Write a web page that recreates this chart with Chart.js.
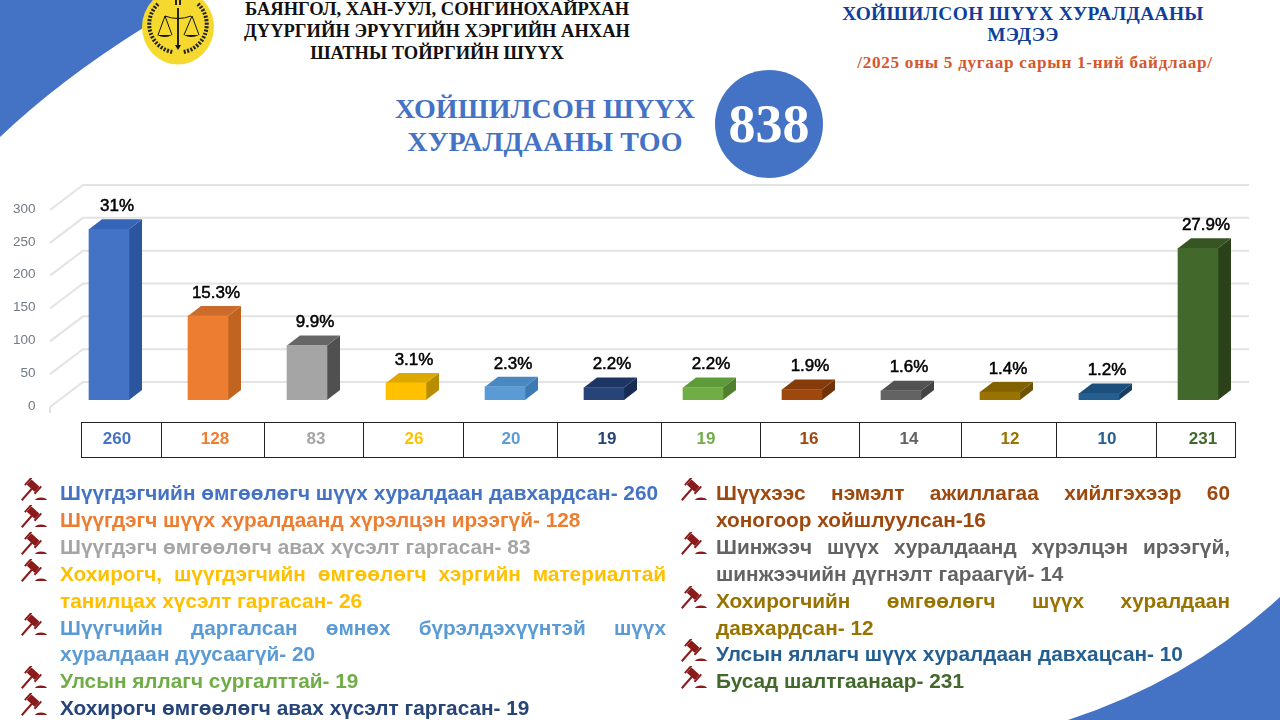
<!DOCTYPE html>
<html>
<head>
<meta charset="utf-8">
<title>Хойшилсон шүүх хуралдааны мэдээ</title>
<script src="https://cdn.jsdelivr.net/npm/chart.js@4"></script>
<style>
  html, body { margin: 0; padding: 0; background: #fff; }
  #page { position: relative; width: 1280px; height: 720px; overflow: hidden; background: #fff; }
  #page > * { position: absolute; }
  #decor { left: 0; top: 0; }
  #chart { left: 0; top: 0; }
  .serif { font-family: "Liberation Serif", serif; font-weight: bold; text-align: center; white-space: nowrap; }
  .head-left { left: 237px; width: 400px; font-size: 18.5px; line-height: 22px; top: -2px; color: #111; }
  .head-right { left: 823px; width: 400px; font-size: 19.4px; line-height: 21px; top: 3px; color: #0f3f9b; letter-spacing: 0.35px; }
  .head-date { left: 835px; width: 400px; font-size: 17.2px; top: 53px; color: #d5582c; letter-spacing: 0.7px; }
  .big-title { left: 345px; width: 400px; font-size: 28px; line-height: 33px; top: 92px; color: #4472c4; letter-spacing: 0.15px; }
  .circle { left: 715px; top: 70px; width: 108px; height: 108px; border-radius: 50%; background: #4472c4;
            color: #fff; font-size: 54px; line-height: 108px; }
  .cell { box-sizing: border-box; top: 422px; height: 36px; border: 1.5px solid #222; }
  .cell span { position: absolute; top: 6px; transform: translateX(-50%);
               font: bold 17px "Liberation Sans", sans-serif; }
  .legend { font: bold 20.8px/26.9px "Liberation Sans", sans-serif; }
  .legend div { position: relative; text-align: justify; }
  .legend svg { position: absolute; top: -2px; }
</style>
</head>
<body>
<div id="page">
  <svg id="decor" width="1280" height="720">
    <path d="M0 137 Q60 80 143 28 L178 8 L178 0 L0 0 Z" fill="#4472c4"/>
    <path d="M1068 720 Q1190 680 1280 597 L1280 720 Z" fill="#4472c4"/>
    <!-- logo -->
    <ellipse cx="178" cy="27" rx="36" ry="37.5" fill="#f5d92e"/>
    <path d="M158 4 A28 28 0 0 0 173 52" fill="none" stroke="#222" stroke-width="4" stroke-dasharray="2 1.5"/>
    <path d="M198 4 A28 28 0 0 1 183 52" fill="none" stroke="#222" stroke-width="4" stroke-dasharray="2 1.5"/>
    <path d="M165 16 Q178 21 191 16 M165 16 L158 35 M165 16 L172 35 M192 16 L184 35 M192 16 L199 35" stroke="#111" stroke-width="1" fill="none"/>
    <path d="M178 8 V47 M176 0 V5 M180 0 V5" stroke="#111" stroke-width="1.8"/>
    <path d="M175 45 L181 45 L178 50 Z M157 35 H172 Q165 39 157 35 Z M184 35 H199 Q191 39 184 35 Z" fill="#111"/>
  </svg>

  <div class="serif head-left">БАЯНГОЛ, ХАН-УУЛ, СОНГИНОХАЙРХАН<br>ДҮҮРГИЙН ЭРҮҮГИЙН ХЭРГИЙН АНХАН<br>ШАТНЫ ТОЙРГИЙН ШҮҮХ</div>
  <div class="serif head-right">ХОЙШИЛСОН ШҮҮХ ХУРАЛДААНЫ<br>МЭДЭЭ</div>
  <div class="serif head-date">/2025 оны 5 дугаар сарын 1-ний байдлаар/</div>
  <div class="serif big-title">ХОЙШИЛСОН ШҮҮХ<br>ХУРАЛДААНЫ ТОО</div>
  <div class="serif circle" id="total"></div>

  <canvas id="chart" width="1280" height="720"></canvas>
  <div id="table"></div>
  <div class="legend" id="legendLeft" style="left:60px;top:480px;width:606px"></div>
  <div class="legend" id="legendRight" style="left:716px;top:480px;width:514px"></div>
</div>

<script>
// Chart data
const categories = [
  'Шүүгдэгчийн өмгөөлөгч шүүх хуралдаан давхардсан- ',
  'Шүүгдэгч шүүх хуралдаанд хүрэлцэн ирээгүй- ',
  'Шүүгдэгч өмгөөлөгч авах хүсэлт гаргасан- ',
  'Хохирогч, шүүгдэгчийн өмгөөлөгч хэргийн материалтай танилцах хүсэлт гаргасан- ',
  'Шүүгчийн даргалсан өмнөх бүрэлдэхүүнтэй шүүх хуралдаан дуусаагүй- ',
  'Хохирогч өмгөөлөгч авах хүсэлт гаргасан- ',
  'Улсын яллагч сургалттай- ',
  'Шүүхээс нэмэлт ажиллагаа хийлгэхээр 60 хоногоор хойшлуулсан-',
  'Шинжээч шүүх хуралдаанд хүрэлцэн ирээгүй, шинжээчийн дүгнэлт гараагүй- ',
  'Хохирогчийн өмгөөлөгч шүүх хуралдаан давхардсан- ',
  'Улсын яллагч шүүх хуралдаан давхацсан- ',
  'Бусад шалтгаанаар- '
];
const values = [260, 128, 83, 26, 20, 19, 19, 16, 14, 12, 10, 231];
const percents = ['31%', '15.3%', '9.9%', '3.1%', '2.3%', '2.2%', '2.2%', '1.9%', '1.6%', '1.4%', '1.2%', '27.9%'];
const totalCount = 838;

// Legend lists the two 19s the other way round
const legendLeftOrder = [0, 1, 2, 3, 4, 6, 5];
const legendRightOrder = [7, 8, 9, 10, 11];

// Colours of the front, side and top faces
const barColors = ['#4472c4', '#ed7d31', '#a5a5a5', '#ffc000', '#5b9bd5', '#264478', '#70ad47', '#9e480e', '#636363', '#997300', '#255e91', '#43682b'];
const sideColors = ['#2b559e', '#c06420', '#505050', '#ba8c00', '#3d7ab5', '#162c52', '#4f8030', '#723208', '#434343', '#6e5200', '#173f63', '#2a4119'];
const topColors = ['#3565b8', '#cc6c2c', '#666666', '#dda800', '#4a88c2', '#1d3664', '#5f9a3a', '#863c0a', '#525252', '#826200', '#1d4f7c', '#365522'];

// Table layout
const tableEdges = [81, 161, 264, 363, 463, 557, 661, 760, 859, 961, 1056, 1156, 1235];
const tableCentres = [116, 214, 315, 413, 510, 606, 705, 808, 908, 1009, 1106, 1202];

// Fake 3D depth, same as the PowerPoint chart
const depthX = 13;
const depthY = 10;

const wall3d = {
  id: 'wall3d',
  beforeDatasetsDraw(chart) {
    const ctx = chart.ctx;
    const yScale = chart.scales.y;
    ctx.save();
    // Gridlines: slanted floor edge, then along the back wall
    ctx.strokeStyle = '#e3e3e3';
    ctx.lineWidth = 2;
    yScale.ticks.forEach(tick => {
      const y = yScale.getPixelForValue(tick.value);
      ctx.beginPath();
      ctx.moveTo(50, y + 7);
      ctx.lineTo(83, y - 18);
      ctx.lineTo(1249, y - 18);
      ctx.stroke();
    });
    ctx.beginPath();
    ctx.moveTo(50, yScale.getPixelForValue(0) + 7);
    ctx.lineTo(50, yScale.getPixelForValue(0) + 13);
    ctx.stroke();

    // Side and top faces of every bar
    chart.getDatasetMeta(0).data.forEach((bar, i) => {
      const left = bar.x - bar.width / 2;
      const right = bar.x + bar.width / 2;
      ctx.fillStyle = sideColors[i];
      ctx.beginPath();
      ctx.moveTo(right, bar.y);
      ctx.lineTo(right + depthX, bar.y - depthY);
      ctx.lineTo(right + depthX, bar.base - depthY);
      ctx.lineTo(right, bar.base);
      ctx.closePath();
      ctx.fill();
      ctx.fillStyle = topColors[i];
      ctx.beginPath();
      ctx.moveTo(left, bar.y);
      ctx.lineTo(left + depthX, bar.y - depthY);
      ctx.lineTo(right + depthX, bar.y - depthY);
      ctx.lineTo(right, bar.y);
      ctx.closePath();
      ctx.fill();
    });
    ctx.restore();
  },
  afterDatasetsDraw(chart) {
    // Percent labels above the bars
    const ctx = chart.ctx;
    ctx.save();
    ctx.font = '17px "Liberation Sans", sans-serif';
    ctx.fillStyle = '#000';
    ctx.strokeStyle = '#000';
    ctx.lineWidth = 0.5;
    ctx.textAlign = 'center';
    ctx.textBaseline = 'middle';
    chart.getDatasetMeta(0).data.forEach((bar, i) => {
      ctx.fillText(percents[i], bar.x + 8, bar.y - depthY - 13);
      ctx.strokeText(percents[i], bar.x + 8, bar.y - depthY - 13);
    });
    ctx.restore();
  }
};

new Chart(document.getElementById('chart'), {
  type: 'bar',
  data: {
    labels: categories,
    datasets: [{
      data: values,
      backgroundColor: barColors,
      barThickness: 40
    }]
  },
  options: {
    responsive: false,
    animation: false,
    layout: { padding: { top: 203, bottom: 320, left: 0, right: 32.5 } },
    plugins: { legend: { display: false }, tooltip: { enabled: false } },
    scales: {
      x: { display: false },
      y: {
        min: 0,
        max: 300,
        afterFit(scale) { scale.width = 59.5; },
        grid: { display: false },
        border: { display: false },
        ticks: {
          stepSize: 50,
          padding: 16,
          labelOffset: 6,
          color: '#6f7a86',
          font: { family: '"Liberation Sans", sans-serif', size: 13.5 }
        }
      }
    }
  },
  plugins: [wall3d]
});

// Total in the circle
document.getElementById('total').textContent = totalCount;

// Value table under the chart
const tableEl = document.getElementById('table');
values.forEach((value, i) => {
  const cell = document.createElement('div');
  cell.className = 'cell';
  cell.style.position = 'absolute';
  cell.style.left = tableEdges[i] + 'px';
  cell.style.width = (tableEdges[i + 1] - tableEdges[i] + 1) + 'px';
  const label = document.createElement('span');
  label.textContent = value;
  label.style.left = (tableCentres[i] - tableEdges[i]) + 'px';
  label.style.color = barColors[i];
  cell.appendChild(label);
  tableEl.appendChild(cell);
});

// Gavel bullet
function gavelIcon(x) {
  return '<svg width="27" height="24" viewBox="0 0 27 24" style="left:' + x + 'px">' +
    '<g fill="#8b1a1a"><path d="M1 21.5 L2.5 23 L13 11 L11.5 9.5 Z"/>' +
    '<g transform="rotate(42 13 7)"><rect x="8" y="4" width="11" height="7" rx="1"/>' +
    '<rect x="6" y="2.5" width="2" height="10"/><rect x="19" y="2.5" width="2" height="10"/></g>' +
    '<path d="M15 22 Q16 19.5 21 19.5 Q26 19.5 27 22 Z"/></g></svg>';
}

// Legend text under the table
function fillLegend(id, order, iconX) {
  const box = document.getElementById(id);
  order.forEach(i => {
    const item = document.createElement('div');
    item.style.color = barColors[i];
    item.innerHTML = gavelIcon(iconX) + categories[i] + values[i];
    box.appendChild(item);
  });
}
fillLegend('legendLeft', legendLeftOrder, -40);
fillLegend('legendRight', legendRightOrder, -36);
</script>
</body>
</html>
